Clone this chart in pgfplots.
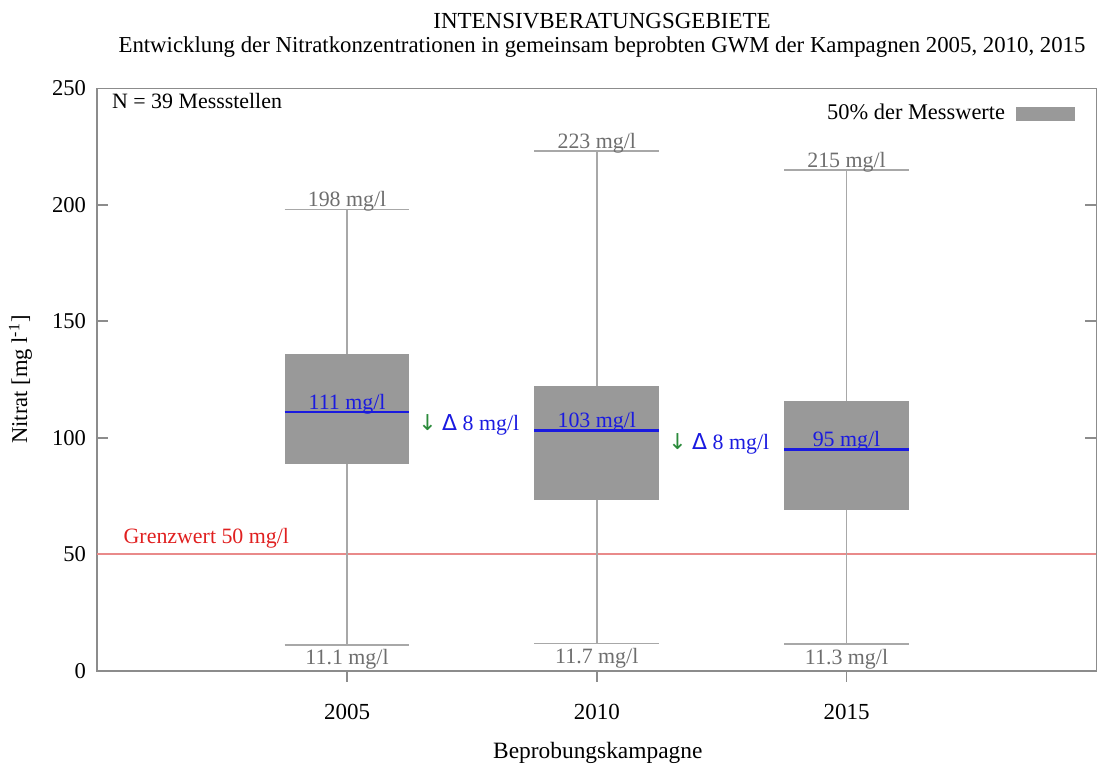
\documentclass[border=0pt,11pt]{standalone}
\usepackage{fontspec}
\setmainfont{Liberation Serif}
\newfontfamily\symfont{DejaVu Sans}
\usepackage{pgfplots}
\pgfplotsset{compat=1.18}
\definecolor{boxgray}{HTML}{999999}
\definecolor{whiskgray}{HTML}{A8A8A8}
\definecolor{valgray}{HTML}{6E6E6E}
\definecolor{axgray}{HTML}{8C8C8C}
\definecolor{medblue}{HTML}{1A1AE0}
\definecolor{arrgreen}{HTML}{2A8A3A}
\definecolor{limred}{HTML}{E98A8A}
\definecolor{textred}{HTML}{E02020}
\pgfplotsset{
  wh/.style={whiskgray, line width=0.9pt, forget plot},
  bx/.style={fill=boxgray, draw=none, forget plot},
  md/.style={medblue, line width=1.3pt, forget plot},
}
\begin{document}
\begin{tikzpicture}
\useasboundingbox (-48.65pt,-48.15pt) rectangle (500.35pt,335.35pt);
\begin{axis}[
  at={(0,0)}, anchor=south west,
  scale only axis, width=499.5pt, height=291.2pt,
  xmin=0, xmax=4, ymin=0, ymax=250,
  xtick={1,2,3}, xticklabels={2005,2010,2015},
  ytick={0,50,100,150,200,250},
  xtick pos=left, ytick pos=both,
  xtick align=outside, ytick align=inside,
  major tick length=5.5pt,
  tick style={axgray, line width=0.8pt},
  axis line style={axgray, line width=0.8pt},
  /pgf/number format/assume math mode=true,
  xticklabel style={font=\fontsize{11.5}{13}\selectfont, yshift=-7.5pt},
  yticklabel style={font=\fontsize{11.3}{13}\selectfont, xshift=-1.8pt},
  clip=false,
  xlabel={Beprobungskampagne},
  ylabel={Nitrat [mg l\textsuperscript{-1}]},
  every axis x label/.style={at={(rel axis cs:0.501,-0.150)}, anchor=base, font=\fontsize{11.7}{14}\selectfont},
  every axis y label/.style={at={(rel axis cs:-0.0769,0.5)}, anchor=center, rotate=90, font=\fontsize{11.3}{14}\selectfont},
  legend plot pos=right,
  legend style={draw=none, fill=none, at={(rel axis cs:0.985,0.985)}, anchor=north east, yshift=0.5pt, column sep=3.5pt, font=\fontsize{11.2}{13}\selectfont},
]
\addlegendimage{area legend, legend image code/.code={\fill[boxgray] (0pt,-3.3pt) rectangle (29pt,3.3pt);}}
\addlegendentry{50\% der Messwerte}

\addplot[limred, line width=0.9pt, forget plot] coordinates {(0,50) (4,50)};

% 2005
\addplot[wh] coordinates {(1,11.1) (1,88.6)};
\addplot[wh] coordinates {(1,135.8) (1,198)};
\addplot[wh] coordinates {(0.75,11.1) (1.25,11.1)};
\addplot[wh] coordinates {(0.75,198) (1.25,198)};
\addplot[bx] coordinates {(0.75,88.6) (1.25,88.6) (1.25,135.8) (0.75,135.8)};
\addplot[md] coordinates {(0.75,111) (1.25,111)};
% 2010
\addplot[wh] coordinates {(2,11.7) (2,73.3)};
\addplot[wh] coordinates {(2,122.2) (2,223)};
\addplot[wh] coordinates {(1.75,11.7) (2.25,11.7)};
\addplot[wh] coordinates {(1.75,223) (2.25,223)};
\addplot[bx] coordinates {(1.75,73.3) (2.25,73.3) (2.25,122.2) (1.75,122.2)};
\addplot[md] coordinates {(1.75,103) (2.25,103)};
% 2015
\addplot[wh] coordinates {(3,11.3) (3,69)};
\addplot[wh] coordinates {(3,115.8) (3,215)};
\addplot[wh] coordinates {(2.75,11.3) (3.25,11.3)};
\addplot[wh] coordinates {(2.75,215) (3.25,215)};
\addplot[bx] coordinates {(2.75,69) (3.25,69) (3.25,115.8) (2.75,115.8)};
\addplot[md] coordinates {(2.75,95) (3.25,95)};

% titles
\node[anchor=base, font=\fontsize{11.5}{13}\selectfont] at (rel axis cs:0.5052,1.1030) {INTENSIVBERATUNGSGEBIETE};
\node[anchor=base, font=\fontsize{11.4}{13}\selectfont] at (rel axis cs:0.5052,1.0620) {Entwicklung der Nitratkonzentrationen in gemeinsam beprobten GWM der Kampagnen 2005, 2010, 2015};
\node[anchor=base west, inner sep=0pt] at (axis cs:0.0577,241.4) {N = 39 Messstellen};
\node[anchor=base west, inner sep=0pt, textred] at (axis cs:0.104,54.7) {Grenzwert 50 mg/l};

% whisker values
\node[anchor=base, valgray, inner sep=0pt, yshift=1.3pt] at (axis cs:1,198) {198 mg/l};
\node[anchor=base, valgray, inner sep=0pt, yshift=1.3pt] at (axis cs:2,223) {223 mg/l};
\node[anchor=base, valgray, inner sep=0pt, yshift=1.3pt] at (axis cs:3,215) {215 mg/l};
\node[anchor=base, valgray, inner sep=0pt, yshift=-10pt] at (axis cs:1,11.1) {11.1 mg/l};
\node[anchor=base, valgray, inner sep=0pt, yshift=-10pt] at (axis cs:2,11.7) {11.7 mg/l};
\node[anchor=base, valgray, inner sep=0pt, yshift=-10pt] at (axis cs:3,11.3) {11.3 mg/l};
% medians
\node[anchor=base, medblue, inner sep=0pt, yshift=1.5pt] at (axis cs:1,111) {111 mg/l};
\node[anchor=base, medblue, inner sep=0pt, yshift=1.5pt] at (axis cs:2,103) {103 mg/l};
\node[anchor=base, medblue, inner sep=0pt, yshift=1.5pt] at (axis cs:3,95) {95 mg/l};
% deltas
\node[anchor=base west, inner sep=0pt] at (axis cs:1.284,103) {{\symfont\color{arrgreen}↓} {\color{medblue}{\symfont Δ} 8 mg/l}};
\node[anchor=base west, inner sep=0pt] at (axis cs:2.285,95) {{\symfont\color{arrgreen}↓} {\color{medblue}{\symfont Δ} 8 mg/l}};
\end{axis}
\end{tikzpicture}
\end{document}
